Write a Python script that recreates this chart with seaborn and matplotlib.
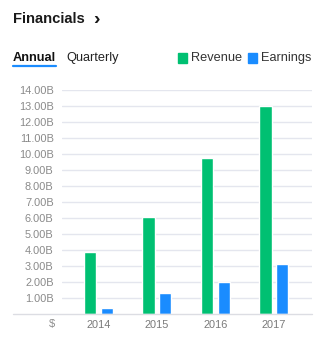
import matplotlib
matplotlib.use("Agg")
import matplotlib.pyplot as plt
import seaborn as sns
import pandas as pd
from matplotlib.lines import Line2D
from matplotlib.patches import Rectangle

years = ["2014", "2015", "2016", "2017"]
revenue = [3.88, 6.07, 9.80, 13.04]
earnings = [0.37, 1.31, 2.04, 3.14]
series = ["Revenue", "Earnings"]
colors = ["#00c072", "#1a8cff"]
yticks = list(range(1, 15))
ytick_labels = [f"{v:.2f}B" for v in yticks]

df = pd.DataFrame({
    "year": years * 2,
    "value": revenue + earnings,
    "series": [series[0]] * 4 + [series[1]] * 4,
})

sns.set_theme(style="white")
plt.rcParams["font.family"] = ["Liberation Sans", "DejaVu Sans"]

W, H = 331, 338
fig = plt.figure(figsize=(W / 100, H / 100), dpi=100)
ax = fig.add_axes([62 / W, (H - 314.3) / H, 250 / W, 224 / H])

sns.barplot(data=df, x="year", y="value", hue="series", palette=colors,
            width=0.58, gap=0.29, ax=ax, legend=False, saturation=1)

ax.set_xlim(-0.624, 3.65)
ax.set_ylim(0, 14)
ax.set_yticks(yticks)
ax.set_yticklabels(ytick_labels)
ax.grid(axis="y", color="#e4e6ee", linewidth=1)
ax.set_axisbelow(True)
for s in ax.spines.values():
    s.set_visible(False)
ax.set_xlabel("")
ax.set_ylabel("")
ax.tick_params(axis="y", length=0, pad=6, labelsize=7.9, labelcolor="#8a8a8a")
ax.tick_params(axis="x", length=0, pad=4, labelsize=7.9, labelcolor="#7a7a7a")

# baseline extending left
fig.add_artist(Line2D([13 / W, 312 / W], [(H - 314.3) / H] * 2, color="#dcdde3", lw=1))
fig.text(52 / W, (H - 324) / H, "$", ha="center", va="center", fontsize=7.9, color="#8a8a8a")

# Header
fig.text(12.5 / W, (H - 19) / H, "Financials", ha="left", va="center",
         fontsize=10.6, fontweight="bold", color="#1a1a1a")
fig.text(93 / W, (H - 19.5) / H, "›", ha="left", va="center",
         fontsize=14, fontweight="bold", color="#1a1a1a")

fig.text(12.7 / W, (H - 58) / H, "Annual", ha="left", va="center",
         fontsize=9.2, fontweight="bold", color="#111111")
fig.add_artist(Line2D([13 / W, 56 / W], [(H - 66) / H] * 2, color="#1a8cff", lw=1.6))
fig.text(66.5 / W, (H - 58) / H, "Quarterly", ha="left", va="center",
         fontsize=9.2, color="#222222")

# Legend
for x0, lbl, c, tx in [(178.3, "Revenue", colors[0], 191.5), (247.5, "Earnings", colors[1], 260.8)]:
    fig.add_artist(Rectangle((x0 / W, (H - 62.5) / H), 9 / W, 9 / H, color=c,
                             transform=fig.transFigure))
    fig.text(tx / W, (H - 58) / H, lbl, ha="left", va="center", fontsize=9.2, color="#333333")

fig.savefig("out.png", dpi=100)
